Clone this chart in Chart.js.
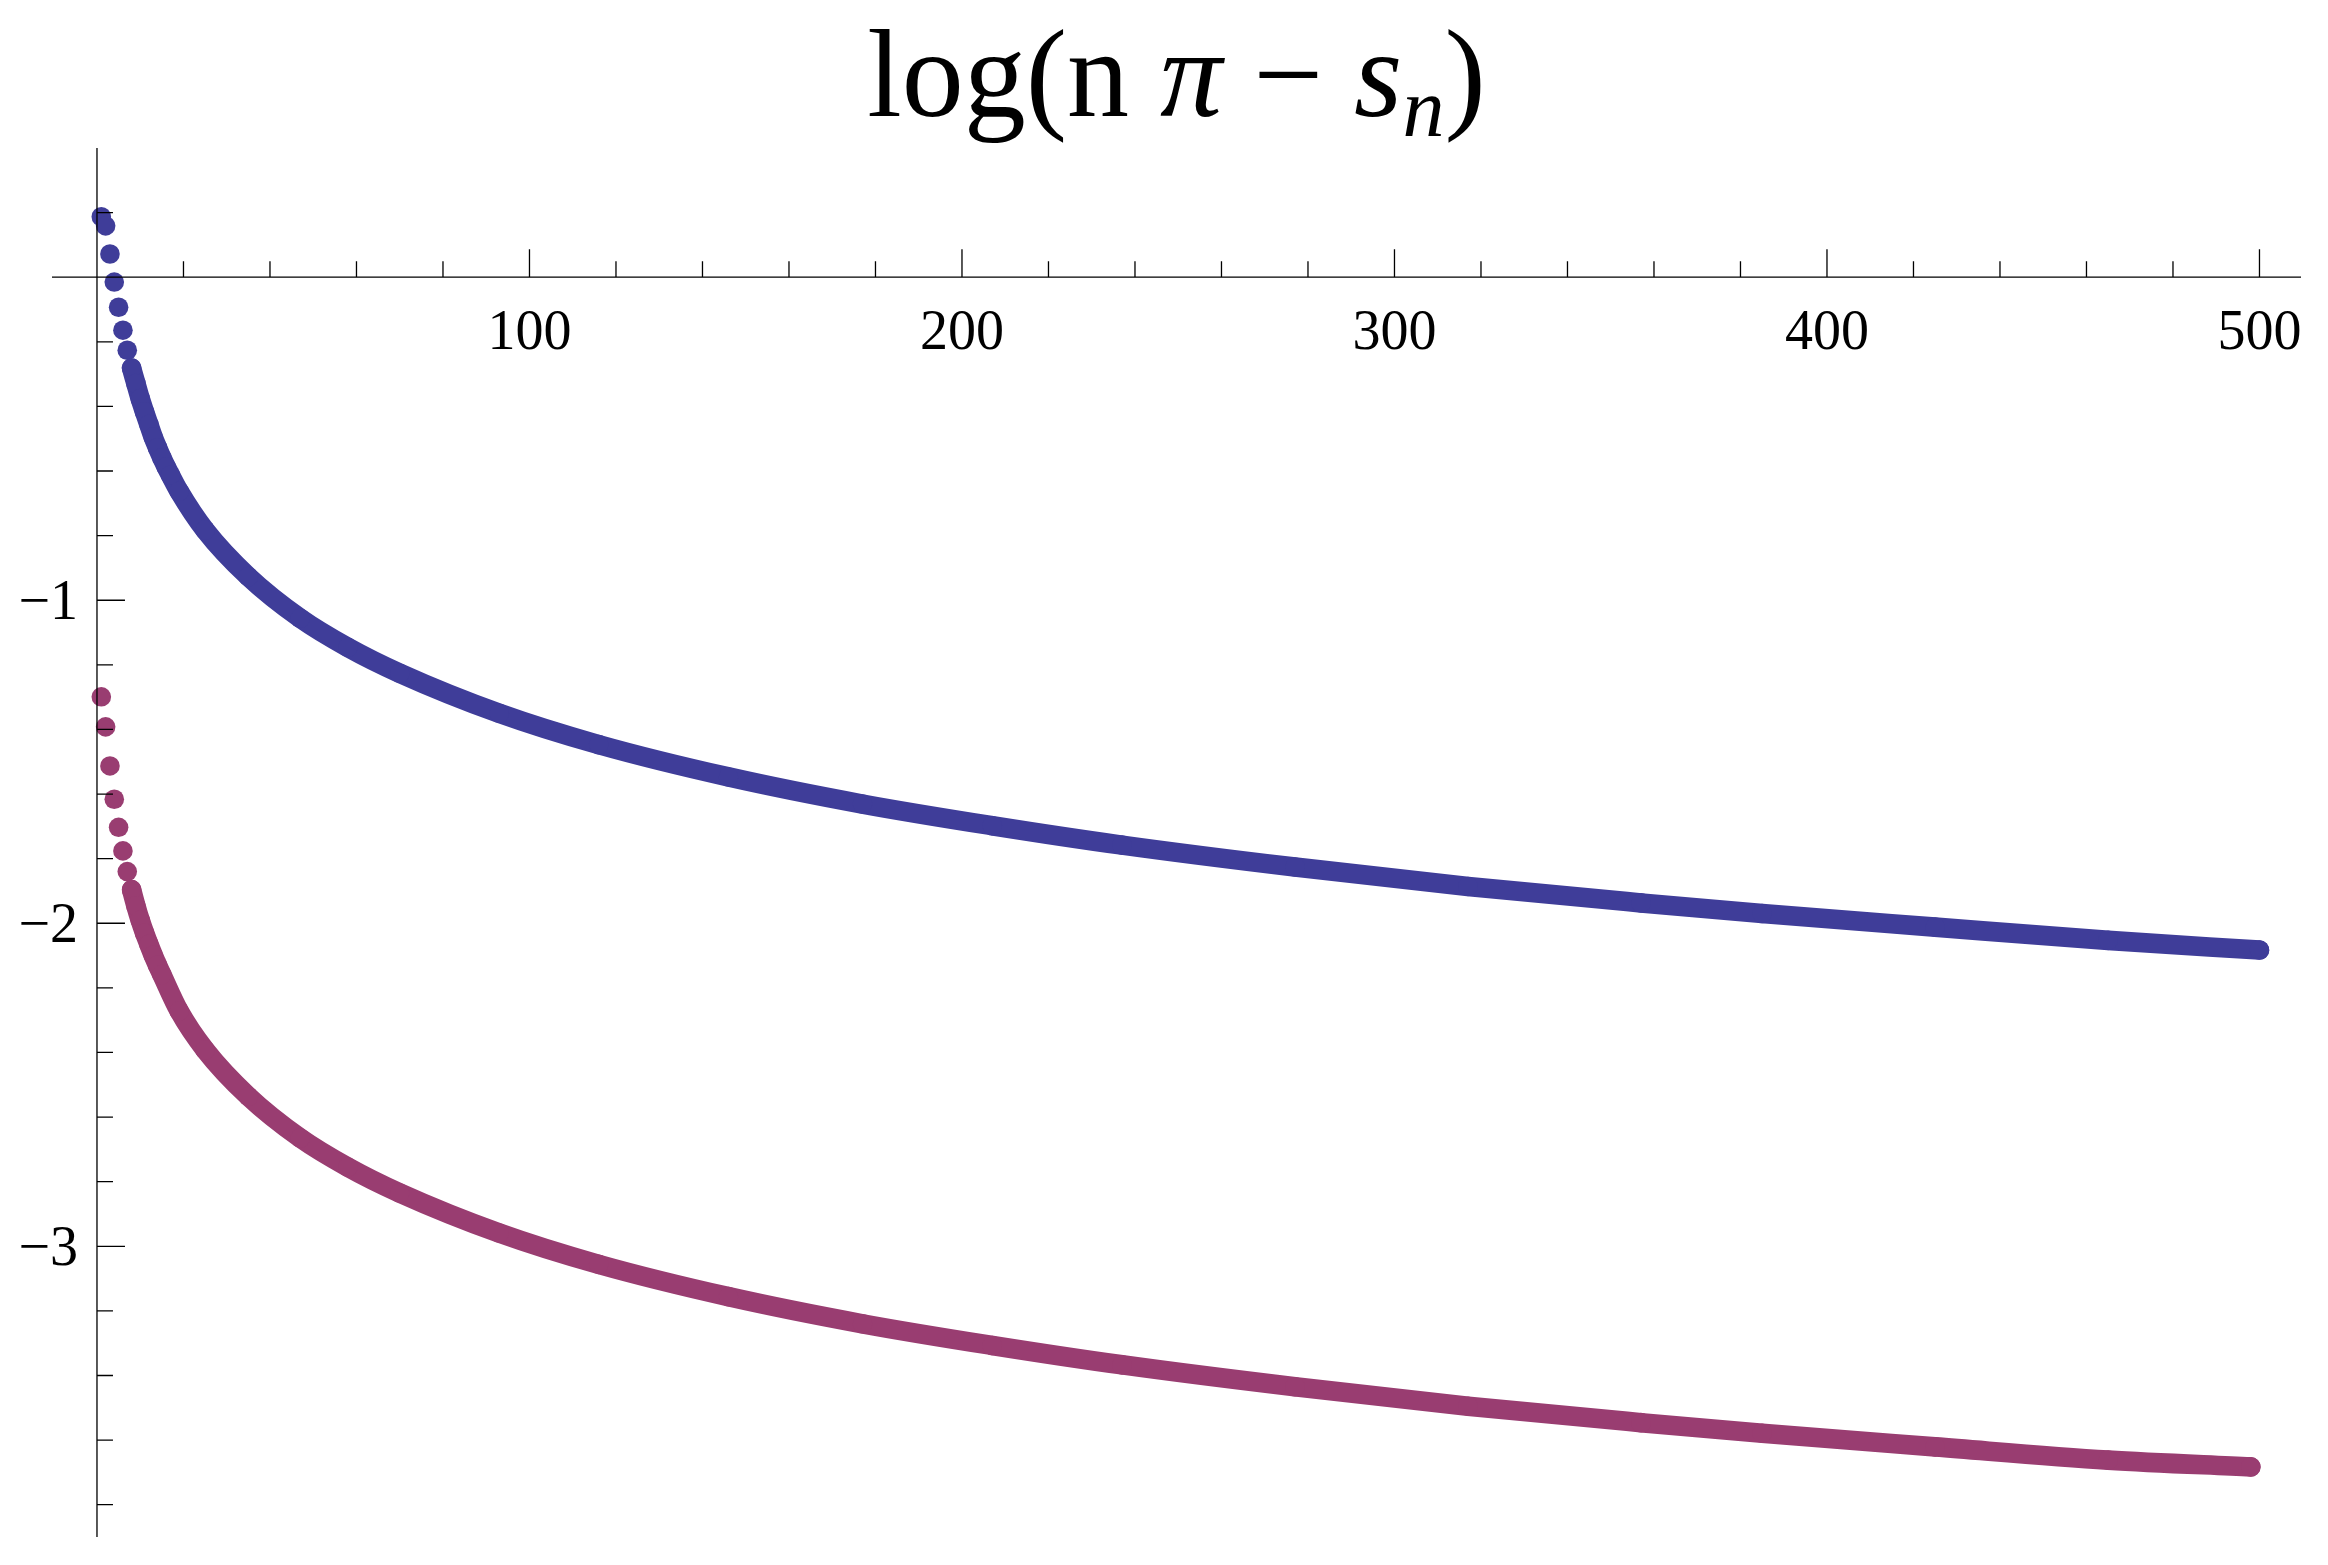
<!DOCTYPE html>
<html>
<head>
<meta charset="utf-8">
<script src="https://cdn.jsdelivr.net/npm/chart.js@4.4.1/dist/chart.umd.min.js"></script>
<style>
  html, body { margin: 0; padding: 0; background: #fff; }
  #wrap { width: 2328px; height: 1565px; position: relative; }
</style>
</head>
<body>
<div id="wrap"><canvas id="chart"></canvas></div>
<script>
// Werte
const nBlau = [1, 2, 3, 4, 5, 6, 7, 8, 9, 10, 11, 12, 13, 14, 15, 16, 17, 19, 25, 35, 47, 58, 70, 93, 116, 146, 177, 207, 237, 277, 317, 357, 385, 425, 465, 500];
const werteBlau = [0.187, 0.159, 0.072, -0.015, -0.093, -0.164, -0.226, -0.281, -0.329, -0.376, -0.417, -0.456, -0.495, -0.528, -0.559, -0.587, -0.613, -0.663, -0.783, -0.927, -1.056, -1.146, -1.226, -1.350, -1.447, -1.547, -1.631, -1.698, -1.758, -1.826, -1.886, -1.937, -1.970, -2.012, -2.053, -2.083];

const nLila = [1, 2, 3, 4, 5, 6, 7, 8, 9, 10, 11, 12, 13, 14, 15, 19, 25, 35, 47, 58, 70, 93, 116, 146, 177, 207, 237, 277, 317, 357, 385, 425, 465, 498];
const werteLila = [-1.299, -1.392, -1.513, -1.616, -1.703, -1.776, -1.840, -1.896, -1.946, -1.991, -2.030, -2.065, -2.099, -2.130, -2.159, -2.272, -2.392, -2.536, -2.665, -2.755, -2.835, -2.959, -3.056, -3.156, -3.240, -3.307, -3.367, -3.435, -3.495, -3.546, -3.579, -3.621, -3.662, -3.683];

const xBeschriftung = [100, 200, 300, 400, 500];
const yBeschriftung = [-1, -2, -3];
const titelTeile = [["log(n ", ""], ["\u03C0", "italic"], [" \u2212 ", ""], ["s", "italic"], ["n", "sub"], [")", ""]];

const blau = "#3F3D99";
const lila = "#993D71";
const schrift = "'Liberation Serif', 'Times New Roman', serif";

function datensatz(nWerte, werte, farbe) {
  return {
    data: nWerte.map((n, i) => ({ x: n, y: werte[i] })),
    showLine: true,
    borderColor: farbe,
    backgroundColor: farbe,
    borderWidth: 19.6,
    pointRadius: 9.8,
    pointHoverRadius: 9.8,
    pointBorderWidth: 0,
    cubicInterpolationMode: "monotone",
    borderCapStyle: "round",
    borderJoinStyle: "round",
    clip: false,
    // die ersten Punkte stehen einzeln
    segment: { borderColor: c => c.p1.parsed.x <= 8 ? "rgba(0,0,0,0)" : undefined }
  };
}

const achsenPlugin = {
  id: "achsen",
  afterDatasetsDraw(chart) {
    const ctx = chart.ctx;
    const area = chart.chartArea;
    const sx = chart.scales.x;
    const sy = chart.scales.y;
    const x0 = sx.getPixelForValue(0);
    const y0 = sy.getPixelForValue(0);

    ctx.save();
    ctx.strokeStyle = "#000";
    ctx.lineWidth = 1.3;
    ctx.beginPath();
    ctx.moveTo(area.left, y0);
    ctx.lineTo(area.right, y0);
    ctx.moveTo(x0, area.top);
    ctx.lineTo(x0, area.bottom);

    // Striche an der x-Achse (nach oben)
    for (let n = 20; n <= 500; n += 20) {
      const px = sx.getPixelForValue(n);
      const lang = n % 100 === 0 ? 28 : 16;
      ctx.moveTo(px, y0);
      ctx.lineTo(px, y0 - lang);
    }
    // Striche an der y-Achse (nach rechts)
    for (let k = 1; k >= -19; k--) {
      if (k === 0) continue;
      const py = sy.getPixelForValue(k / 5);
      const lang = k % 5 === 0 ? 28 : 16;
      ctx.moveTo(x0, py);
      ctx.lineTo(x0 + lang, py);
    }
    ctx.stroke();

    ctx.fillStyle = "#000";
    ctx.font = "56px " + schrift;
    ctx.textAlign = "center";
    ctx.textBaseline = "alphabetic";
    xBeschriftung.forEach(n => {
      ctx.fillText(String(n), sx.getPixelForValue(n), y0 + 72);
    });
    ctx.textAlign = "right";
    yBeschriftung.forEach(w => {
      ctx.fillText("\u2212" + Math.abs(w), x0 - 19, sy.getPixelForValue(w) + 19);
    });
    ctx.restore();
  }
};

const titelPlugin = {
  id: "titel",
  afterDraw(chart) {
    const ctx = chart.ctx;
    const area = chart.chartArea;
    const gross = 124;
    const klein = 84;
    const grundlinie = 116;
    ctx.save();
    ctx.fillStyle = "#000";
    ctx.textBaseline = "alphabetic";
    ctx.textAlign = "left";

    const fontFuer = art => art === "sub" ? "italic " + klein + "px " + schrift
      : (art === "italic" ? "italic " : "") + gross + "px " + schrift;

    let breite = 0;
    titelTeile.forEach(([text, art]) => {
      ctx.font = fontFuer(art);
      breite += ctx.measureText(text).width;
    });

    let x = (area.left + area.right) / 2 - breite / 2;
    titelTeile.forEach(([text, art]) => {
      ctx.font = fontFuer(art);
      ctx.fillText(text, x, art === "sub" ? grundlinie + 20 : grundlinie);
      x += ctx.measureText(text).width;
    });
    ctx.restore();
  }
};

function zeichneChart() {
  const ctx = document.getElementById("chart").getContext("2d");
  window.meinChart = new Chart(ctx, {
    type: "scatter",
    data: {
      datasets: [
        datensatz(nBlau, werteBlau, blau),
        datensatz(nLila, werteLila, lila)
      ]
    },
    options: {
      responsive: true,
      maintainAspectRatio: false,
      animation: false,
      devicePixelRatio: 1,
      layout: { padding: { left: 52, right: 27, top: 148, bottom: 28 } },
      scales: {
        x: { type: "linear", min: -10.4, max: 509.6, display: false },
        y: { type: "linear", min: -3.9, max: 0.4, display: false }
      },
      plugins: {
        legend: { display: false },
        tooltip: { enabled: false },
        title: { display: false }
      }
    },
    plugins: [achsenPlugin, titelPlugin]
  });
}

zeichneChart();
</script>
</body>
</html>
